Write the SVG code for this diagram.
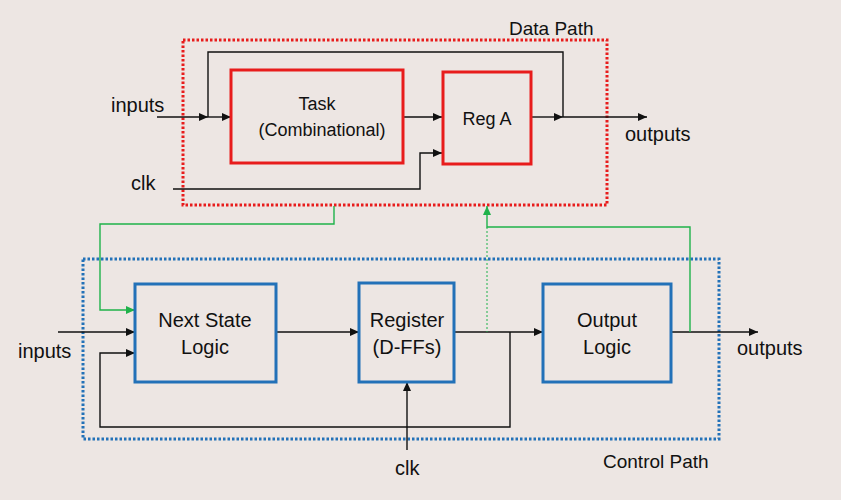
<svg xmlns="http://www.w3.org/2000/svg" width="841" height="500" viewBox="0 0 841 500">
<defs>
<style>
text{font-family:"Liberation Sans",Arial,sans-serif;fill:#111;}
.lbl{font-size:20px;}
.nd{font-size:18px;text-anchor:middle;}
.nd2{font-size:20px;text-anchor:middle;}
.redbox{fill:none;stroke:#e81c1c;stroke-width:3;}
.bluebox{fill:none;stroke:#2271b8;stroke-width:3;}
.wire{fill:none;stroke:#111;stroke-width:1.4;}
.gwire{fill:none;stroke:#1fb24a;stroke-width:1.4;}
.gdot{fill:none;stroke:#1fb24a;stroke-width:1;stroke-dasharray:2 2;}
</style>
<marker id="ah" markerUnits="userSpaceOnUse" markerWidth="10" markerHeight="10" refX="9" refY="5" orient="auto">
<path d="M0,1 L9,5 L0,9 Z" fill="#111"/>
</marker>
<marker id="ahg" markerUnits="userSpaceOnUse" markerWidth="10" markerHeight="10" refX="9" refY="5" orient="auto">
<path d="M0,1 L9,5 L0,9 Z" fill="#1fb24a"/>
</marker>
</defs>
<rect x="0" y="0" width="841" height="500" fill="#ede6e3"/>

<g id="datapath-boundary">
<rect x="183" y="40" width="424" height="165" fill="none" stroke="#e81c1c" stroke-width="3" stroke-dasharray="2.5 2"/>
<text x="509" y="35" font-size="19">Data Path</text>
</g>
<g id="controlpath-boundary">
<rect x="83" y="259" width="636" height="180" fill="none" stroke="#2271b8" stroke-width="3" stroke-dasharray="2.5 2"/>
<text x="603" y="468" font-size="19">Control Path</text>
</g>

<g id="connectors">
<path class="wire" d="M157,117 H208" marker-end="url(#ah)"/>
<path class="wire" d="M208,117 H231" marker-end="url(#ah)"/>
<path class="wire" d="M208,117 V52 H563 V117"/>
<path class="wire" d="M403,117 H442" marker-end="url(#ah)"/>
<path class="wire" d="M532,117 H563" marker-end="url(#ah)"/>
<path class="wire" d="M563,117 H647" marker-end="url(#ah)"/>
<path class="wire" d="M173,189 H420 V153 H442" marker-end="url(#ah)"/>
<path class="wire" d="M58,332 H135" marker-end="url(#ah)"/>
<path class="wire" d="M276,332 H359" marker-end="url(#ah)"/>
<path class="wire" d="M454,332 H543" marker-end="url(#ah)"/>
<path class="wire" d="M671,332 H758" marker-end="url(#ah)"/>
<path class="wire" d="M510,332 V427 H100 V353 H135" marker-end="url(#ah)"/>
<path class="wire" d="M407,450 V382" marker-end="url(#ah)"/>
<path class="gwire" d="M334,206 V224 H100 V310 H135" marker-end="url(#ahg)"/>
<path class="gwire" d="M690,332 V227 H487 V206" marker-end="url(#ahg)"/>
<path class="gdot" d="M487,227 V332"/>
</g>

<g id="task">
<rect class="redbox" x="231" y="70" width="172" height="93"/>
<text class="nd" x="317" y="110">Task</text>
<text class="nd" x="322" y="136">(Combinational)</text>
</g>
<g id="rega">
<rect class="redbox" x="443" y="72" width="88" height="92"/>
<text class="nd" x="487" y="125">Reg A</text>
</g>
<g id="nextstate">
<rect class="bluebox" x="135" y="284" width="141" height="98"/>
<text class="nd2" x="205" y="327">Next State</text>
<text class="nd2" x="205" y="354">Logic</text>
</g>
<g id="register">
<rect class="bluebox" x="359" y="283" width="95" height="99"/>
<text class="nd2" x="407" y="327">Register</text>
<text class="nd2" x="407" y="354">(D-FFs)</text>
</g>
<g id="outputlogic">
<rect class="bluebox" x="543" y="284" width="128" height="98"/>
<text class="nd2" x="607" y="327">Output</text>
<text class="nd2" x="607" y="354">Logic</text>
</g>

<g id="labels">
<text class="lbl" x="111" y="112">inputs</text>
<text class="lbl" x="131" y="190">clk</text>
<text class="lbl" x="625" y="141">outputs</text>
<text class="lbl" x="18" y="358">inputs</text>
<text class="lbl" x="737" y="355">outputs</text>
<text class="lbl" x="395" y="475">clk</text>
</g>
</svg>
